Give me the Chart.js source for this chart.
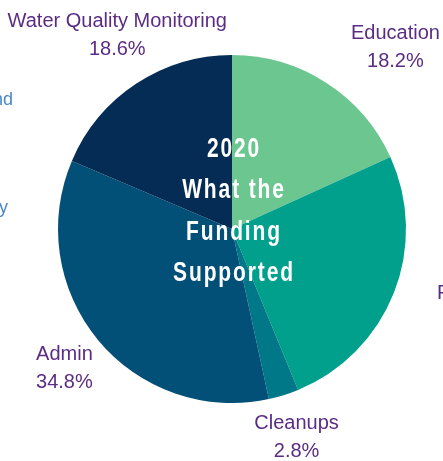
<!DOCTYPE html>
<html>
<head>
<meta charset="utf-8">
<script src="https://cdn.jsdelivr.net/npm/chart.js@4.4.0/dist/chart.umd.min.js"></script>
<style>
  html, body { margin: 0; padding: 0; background: #fff; overflow: hidden; }
  #wrap { position: relative; width: 443px; height: 461px; }
  .side { position: absolute; font-family: "Liberation Sans", Arial, sans-serif; font-size: 18px; line-height: 18px; color: #4a86c8; white-space: nowrap; }
</style>
</head>
<body>
<div id="wrap">
  <canvas id="chart-1" width="443" height="461"></canvas>
  <span class="side" style="right:430px; top:90px;">Land</span>
  <span class="side" style="right:435px; top:198px;">Policy</span>
</div>
<script>
const categories = ['Education', 'Fisheries', 'Cleanups', 'Admin', 'Water Quality Monitoring'];
const shares = [18.2, 25.6, 2.8, 34.8, 18.6];
const sliceColors = ['#6cc690', '#00a08d', '#017887', '#024f77', '#052c55'];
const centerLines = ['2020', 'What the', 'Funding', 'Supported'];

// label placement tweaks: extra angle (deg) and distance as a factor of the radius
const labelTurn = [9, -4, 0, 0, 3];
const labelDist = [1.41, 1.48, 1.25, 1.25, 1.30];

const sliceLabels = {
  id: 'sliceLabels',
  afterDatasetsDraw(chart) {
    const c = chart.ctx;
    const arcs = chart.getDatasetMeta(0).data;
    const total = shares.reduce((a, b) => a + b, 0);
    c.save();
    c.font = '20px "Liberation Sans", Arial, sans-serif';
    c.fillStyle = '#5b2c83';
    c.textAlign = 'center';
    c.textBaseline = 'middle';
    arcs.forEach((arc, i) => {
      const p = arc.getProps(['x', 'y', 'startAngle', 'endAngle', 'outerRadius'], true);
      const mid = (p.startAngle + p.endAngle) / 2 + labelTurn[i] * Math.PI / 180;
      const d = p.outerRadius * labelDist[i];
      const x = p.x + Math.cos(mid) * d;
      const y = p.y + Math.sin(mid) * d;
      c.fillText(categories[i], x, y - 13);
      c.fillText((shares[i] / total * 100).toFixed(1) + '%', x, y + 15);
    });
    c.restore();
  }
};

const centerText = {
  id: 'centerText',
  afterDatasetsDraw(chart) {
    const c = chart.ctx;
    const arc = chart.getDatasetMeta(0).data[0];
    const sx = 0.75;
    c.save();
    c.scale(sx, 1);
    c.font = 'bold 28px "Liberation Sans", Arial, sans-serif';
    c.letterSpacing = '2.5px';
    c.fillStyle = '#ffffff';
    c.textAlign = 'center';
    c.textBaseline = 'alphabetic';
    const pitch = 41.3;
    centerLines.forEach((t, i) => c.fillText(t, (arc.x + 2) / sx, arc.y - 72 + i * pitch));
    c.restore();
  }
};

const ctx = document.getElementById('chart-1');

new Chart(ctx, {
  type: 'pie',
  data: {
    labels: categories,
    datasets: [{
      data: shares,
      backgroundColor: sliceColors,
      borderWidth: 0
    }]
  },
  options: {
    responsive: false,
    animation: false,
    layout: { padding: { left: 58, right: 37, top: 55, bottom: 58 } },
    plugins: {
      legend: { display: false },
      tooltip: { enabled: false }
    }
  },
  plugins: [sliceLabels, centerText]
});
</script>
</body>
</html>
